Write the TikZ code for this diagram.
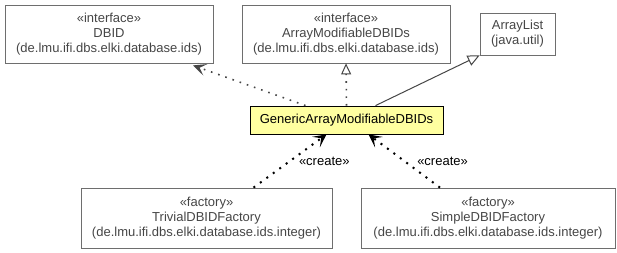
\documentclass[tikz,border=0pt]{standalone}
\usepackage{fontspec}
\setmainfont{Liberation Sans}
\usepackage{tikz}
\usetikzlibrary{arrows.meta,positioning}

\definecolor{boxgray}{RGB}{110,110,110}
\definecolor{textgray}{RGB}{70,70,70}
\definecolor{focusfill}{RGB}{255,255,160}

\begin{document}
\begin{tikzpicture}
			[
				x=1pt, y=-1pt,
				font=\fontsize{13}{15}\selectfont,
				align=center,
				box/.style={draw=boxgray, thick, fill=white, text=textgray, inner sep=0pt},
				focus/.style={draw=black, thick, fill=focusfill, inner sep=0pt},
				usedep/.style={dash pattern=on 1.6pt off 6pt, line width=1.6pt, textgray, -{Stealth[length=13pt,width=12pt,inset=6pt]}},
				realize/.style={dash pattern=on 1.6pt off 6pt, line width=1.6pt, textgray, -{Triangle[open,length=11pt,width=10pt,line width=1pt]}},
				extend/.style={draw=textgray, line width=1pt, -{Triangle[open,length=12pt,width=11pt,line width=1pt]}},
				create/.style={dash pattern=on 2pt off 6pt, line width=2pt, black, -{Stealth[length=13pt,width=13pt,inset=6.5pt]}},
				label/.style={draw=none, fill=none, text=black, inner sep=0pt}
			]

			\useasboundingbox[fill=white] (0,0) rectangle (617,253);

			% classes
			\node[box, minimum width=208, minimum height=58] (dbid) at (109,34)
				{«interface»\\DBID\\(de.lmu.ifi.dbs.elki.database.ids)};
			\node[box, minimum width=208, minimum height=58] (amdbids) at (346,34)
				{«interface»\\ArrayModifiableDBIDs\\(de.lmu.ifi.dbs.elki.database.ids)};
			\node[box, minimum width=75, minimum height=42] (alist) at (517.5,34)
				{ArrayList\\(java.util)};
			\node[focus, minimum width=193, minimum height=28] (generic) at (346.5,120)
				{GenericArrayModifiableDBIDs};
			\node[box, minimum width=251, minimum height=60] (trivial) at (206.5,218)
				{«factory»\\TrivialDBIDFactory\\(de.lmu.ifi.dbs.elki.database.ids.integer)};
			\node[box, minimum width=254, minimum height=60] (simple) at (488,218)
				{«factory»\\SimpleDBIDFactory\\(de.lmu.ifi.dbs.elki.database.ids.integer)};

			% relations
			\draw[usedep] ([xshift=-41]generic.north) -- ([xshift=84,yshift=-2]dbid.south);
			\draw[realize] (generic.north) -- (amdbids.south);
			\draw[extend] ([xshift=29]generic.north) -- (alist.south west);

			\draw[create] ([xshift=47]trivial.north) -- ([xshift=-20]generic.south)
				node[label, pos=0.5, right=8pt] {«create»};
			\draw[create] ([xshift=-48]simple.north) -- ([xshift=22]generic.south)
				node[label, pos=0.5, right=12pt] {«create»};

		\end{tikzpicture}
\end{document}
